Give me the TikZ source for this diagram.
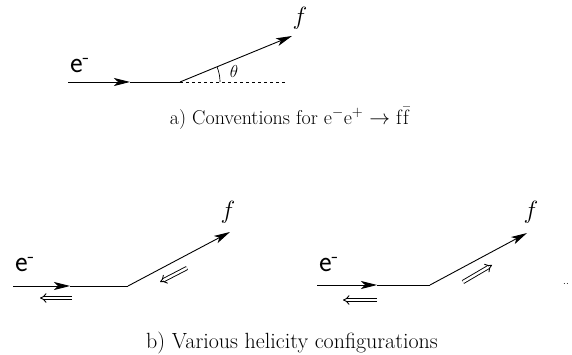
\documentclass[tikz,border=0pt]{standalone}
\usepackage{amsmath}
\usetikzlibrary{arrows.meta}
\usetikzlibrary{calc}

\begin{document}
\begin{tikzpicture}[x=1pt, y=1pt, line width=0.9pt,
    particle/.style={font=\fontsize{30}{32}\selectfont},
    caption/.style={font=\fontsize{20}{24}\selectfont},
    mom/.style={-{Stealth[length=16pt, width=8pt, inset=4pt]}},
    helic/.style={double, double distance=2.4pt, line width=0.9pt, -{Implies}}]

    \useasboundingbox (0,0) rectangle (572,355);

    % a) conventions
    \coordinate (A0) at (68, 273);
    \coordinate (AM) at (130, 273);
    \coordinate (AV) at (180, 273);
    \coordinate (AD) at (287, 273);
    \coordinate (AF) at (292, 319);

    \draw[mom] (A0) -- (AM);
    \draw (AM) -- (AV);
    \draw[dashed, line width=0.6pt] (AV) -- (AD);
    \draw[mom] (AV) -- (AF);
    \draw[line width=0.7pt] ($(AV)+(40,0)$) arc (0:22:40);

    \node[particle] (ea) at (80, 289) {\sffamily e$^{\text{-}}$};
    \node[particle] (fa) at (300, 337) {$f$};
    \node (th) at (234, 283) {\LARGE$\theta$};
    \node[caption] (capa) at (290, 237) {a) Conventions for e$^-$e$^+$ $\rightarrow$ $\mathrm{f}\bar{\mathrm{f}}$};

    % b) helicities
    \coordinate (B0) at (13, 69);
    \coordinate (BM) at (70, 69);
    \coordinate (BV) at (128, 69);
    \coordinate (BF) at (230, 123);
    \coordinate (Bs) at (72, 57);
    \coordinate (Be) at (40, 57);
    \coordinate (Bfs) at (187, 87);
    \coordinate (Bfe) at (160, 73);

    \draw[mom] (B0) -- (BM);
    \draw (BM) -- (BV);
    \draw[mom] (BV) -- (BF);
    \draw[helic] (Bs) -- (Be);
    \draw[helic] (Bfs) -- (Bfe);
    \node[particle] (eb) at (25, 90) {\sffamily e$^{\text{-}}$};
    \node[particle] (fb) at (228, 143) {$f$};

    \coordinate (C0) at (317, 70);
    \coordinate (CM) at (377, 70);
    \coordinate (CV) at (430, 70);
    \coordinate (CF) at (527, 122);
    \coordinate (Cs) at (377, 55);
    \coordinate (Ce) at (343, 55);
    \coordinate (Cfs) at (463, 73);
    \coordinate (Cfe) at (492, 90);

    \draw[mom] (C0) -- (CM);
    \draw (CM) -- (CV);
    \draw[mom] (CV) -- (CF);
    \draw[helic] (Cs) -- (Ce);
    \draw[helic] (Cfs) -- (Cfe);
    \node[particle] (ec) at (329, 90) {\sffamily e$^{\text{-}}$};
    \node[particle] (fc) at (531, 143) {$f$};
    \node (dots) at (566, 71) {..};

    \node[caption, font=\fontsize{22}{26}\selectfont] (capb) at (292, 12) {b) Various helicity configurations};

\end{tikzpicture}
\end{document}
